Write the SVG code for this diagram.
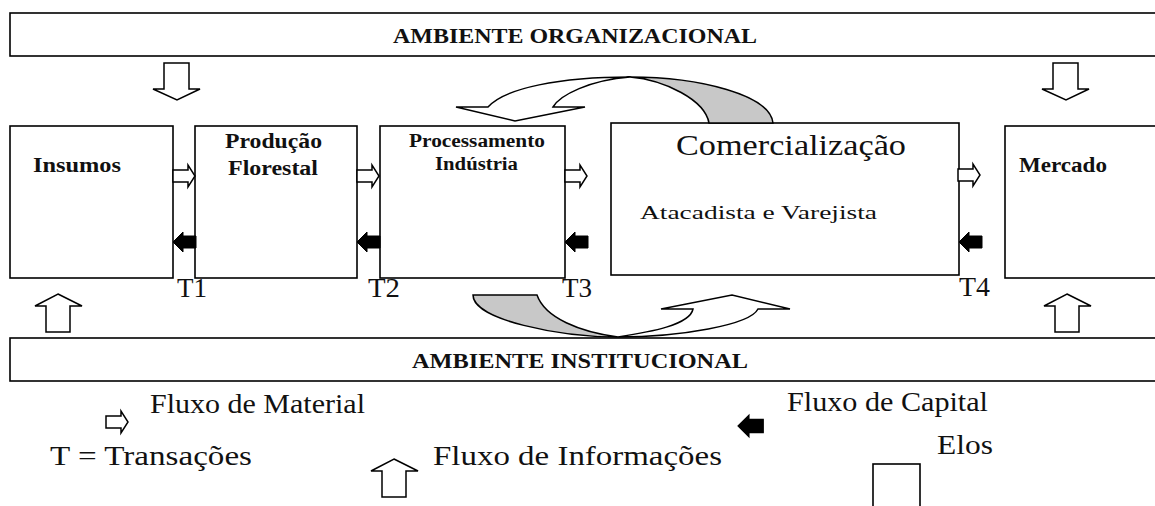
<svg xmlns="http://www.w3.org/2000/svg" xmlns:xlink="http://www.w3.org/1999/xlink" width="1155" height="506" viewBox="0 0 1155 506">
<style>
.box{fill:#fff;stroke:#000;stroke-width:1.6}
.b{font-family:"Liberation Serif","Times New Roman",serif;font-weight:bold;fill:#111}
.r{font-family:"Liberation Serif","Times New Roman",serif;fill:#111}
.ho{fill:#fff;stroke:#000;stroke-width:1.5;stroke-linejoin:miter}
.blk{fill:#000;stroke:#000;stroke-width:1}
.gr{fill:#c8c8c8;stroke:#000;stroke-width:1.5}
</style>
<defs>
<path id="mat" d="M0,-6 H15 V-11 L22,0 L15,11 V6 H0 Z"/>
<path id="cap" d="M0,0 L10,-10 V-6 H23 V6 H10 V10 Z"/>
<path id="down" d="M-13,0 H12 V26 H23 L0,37 L-24,26 H-13 Z"/>
<path id="up" d="M0,0 L24,12 H12 V38 H-12 V12 H-23 Z"/>
</defs>
<rect width="1155" height="506" fill="#fff"/>

<g id="ambiente-organizacional">
<rect class="box" x="10" y="13" width="1160" height="43"/>
<text class="b" x="393" y="43" font-size="21" textLength="364" lengthAdjust="spacingAndGlyphs">AMBIENTE ORGANIZACIONAL</text>
</g>
<g id="ambiente-institucional">
<rect class="box" x="10" y="338" width="1160" height="43"/>
<text class="b" x="412" y="368" font-size="21" textLength="336" lengthAdjust="spacingAndGlyphs">AMBIENTE INSTITUCIONAL</text>
</g>
<g id="insumos">
<rect class="box" x="10" y="126" width="163" height="152"/>
<text class="b" x="33" y="172" font-size="20" textLength="88" lengthAdjust="spacingAndGlyphs">Insumos</text>
</g>
<g id="producao-florestal">
<rect class="box" x="195" y="126" width="162" height="152"/>
<text class="b" x="225" y="148" font-size="20" textLength="97" lengthAdjust="spacingAndGlyphs">Produção</text>
<text class="b" x="228" y="175" font-size="20" textLength="90" lengthAdjust="spacingAndGlyphs">Florestal</text>
</g>
<g id="processamento-industria">
<rect class="box" x="380" y="126" width="185" height="152"/>
<text class="b" x="409" y="147" font-size="18" textLength="136" lengthAdjust="spacingAndGlyphs">Processamento</text>
<text class="b" x="435" y="170" font-size="18" textLength="83" lengthAdjust="spacingAndGlyphs">Indústria</text>
</g>
<g id="comercializacao">
<rect class="box" x="611" y="123" width="348" height="152"/>
<text class="r" x="676" y="155" font-size="29" textLength="230" lengthAdjust="spacingAndGlyphs">Comercialização</text>
<text class="r" x="640" y="219" font-size="19" textLength="237" lengthAdjust="spacingAndGlyphs">Atacadista e Varejista</text>
</g>
<g id="mercado">
<rect class="box" x="1005" y="126" width="160" height="152"/>
<text class="b" x="1019" y="172" font-size="20" textLength="88" lengthAdjust="spacingAndGlyphs">Mercado</text>
</g>
<g id="transacoes">
<text class="r" x="177" y="297" font-size="27" textLength="30" lengthAdjust="spacingAndGlyphs">T1</text>
<text class="r" x="368" y="297" font-size="27" textLength="32" lengthAdjust="spacingAndGlyphs">T2</text>
<text class="r" x="562" y="297" font-size="27" textLength="30" lengthAdjust="spacingAndGlyphs">T3</text>
<text class="r" x="959" y="296" font-size="27" textLength="31" lengthAdjust="spacingAndGlyphs">T4</text>
</g>

<g id="connectors">
<use href="#mat" xlink:href="#mat" class="ho" transform="translate(173,176)"/>
<use href="#mat" xlink:href="#mat" class="ho" transform="translate(357,176)"/>
<use href="#mat" xlink:href="#mat" class="ho" transform="translate(565,176)"/>
<use href="#mat" xlink:href="#mat" class="ho" transform="translate(958,175)"/>
<use href="#cap" xlink:href="#cap" class="blk" transform="translate(173,242)"/>
<use href="#cap" xlink:href="#cap" class="blk" transform="translate(357,242)"/>
<use href="#cap" xlink:href="#cap" class="blk" transform="translate(565,242)"/>
<use href="#cap" xlink:href="#cap" class="blk" transform="translate(959,242)"/>
<use href="#down" xlink:href="#down" class="ho" transform="translate(177,63)"/>
<use href="#down" xlink:href="#down" class="ho" transform="translate(1066,63)"/>
<use href="#up" xlink:href="#up" class="ho" transform="translate(58,294)"/>
<use href="#up" xlink:href="#up" class="ho" transform="translate(1067,294)"/>
<!-- top curved arrow -->
<path class="gr" d="M630,77 C700,77 770,95 773,123 L709,123 C705,100 665,80 630,77 Z"/>
<path class="ho" d="M488,107 C505,88 560,77 630,77 C590,80 560,95 553,107 L585,107 L515,121 L456,107 Z"/>
<!-- bottom curved arrow -->
<path class="gr" d="M473,295 L537,295 C545,318 580,332 618,337 C560,337 473,320 473,295 Z"/>
<path class="ho" d="M618,337 C680,337 750,325 758,309 L790,309 L732,295 L661,309 L693,309 C690,325 650,332 618,337 Z"/>
</g>

<g id="legenda">
<use href="#mat" xlink:href="#mat" class="ho" transform="translate(106,422)"/>
<text class="r" x="150" y="413" font-size="27" textLength="215" lengthAdjust="spacingAndGlyphs">Fluxo de Material</text>
<text class="r" x="50" y="465" font-size="27" textLength="202" lengthAdjust="spacingAndGlyphs">T = Transações</text>
<use href="#up" xlink:href="#up" class="ho" transform="translate(394,459)"/>
<text class="r" x="433" y="465" font-size="27" textLength="289" lengthAdjust="spacingAndGlyphs">Fluxo de Informações</text>
<use href="#cap" xlink:href="#cap" class="blk" transform="translate(738,426) scale(1.1)"/>
<text class="r" x="787" y="411" font-size="27" textLength="201" lengthAdjust="spacingAndGlyphs">Fluxo de Capital</text>
<text class="r" x="937" y="454" font-size="27" textLength="56" lengthAdjust="spacingAndGlyphs">Elos</text>
<rect class="box" x="873" y="464" width="47" height="60"/>
</g>
</svg>
